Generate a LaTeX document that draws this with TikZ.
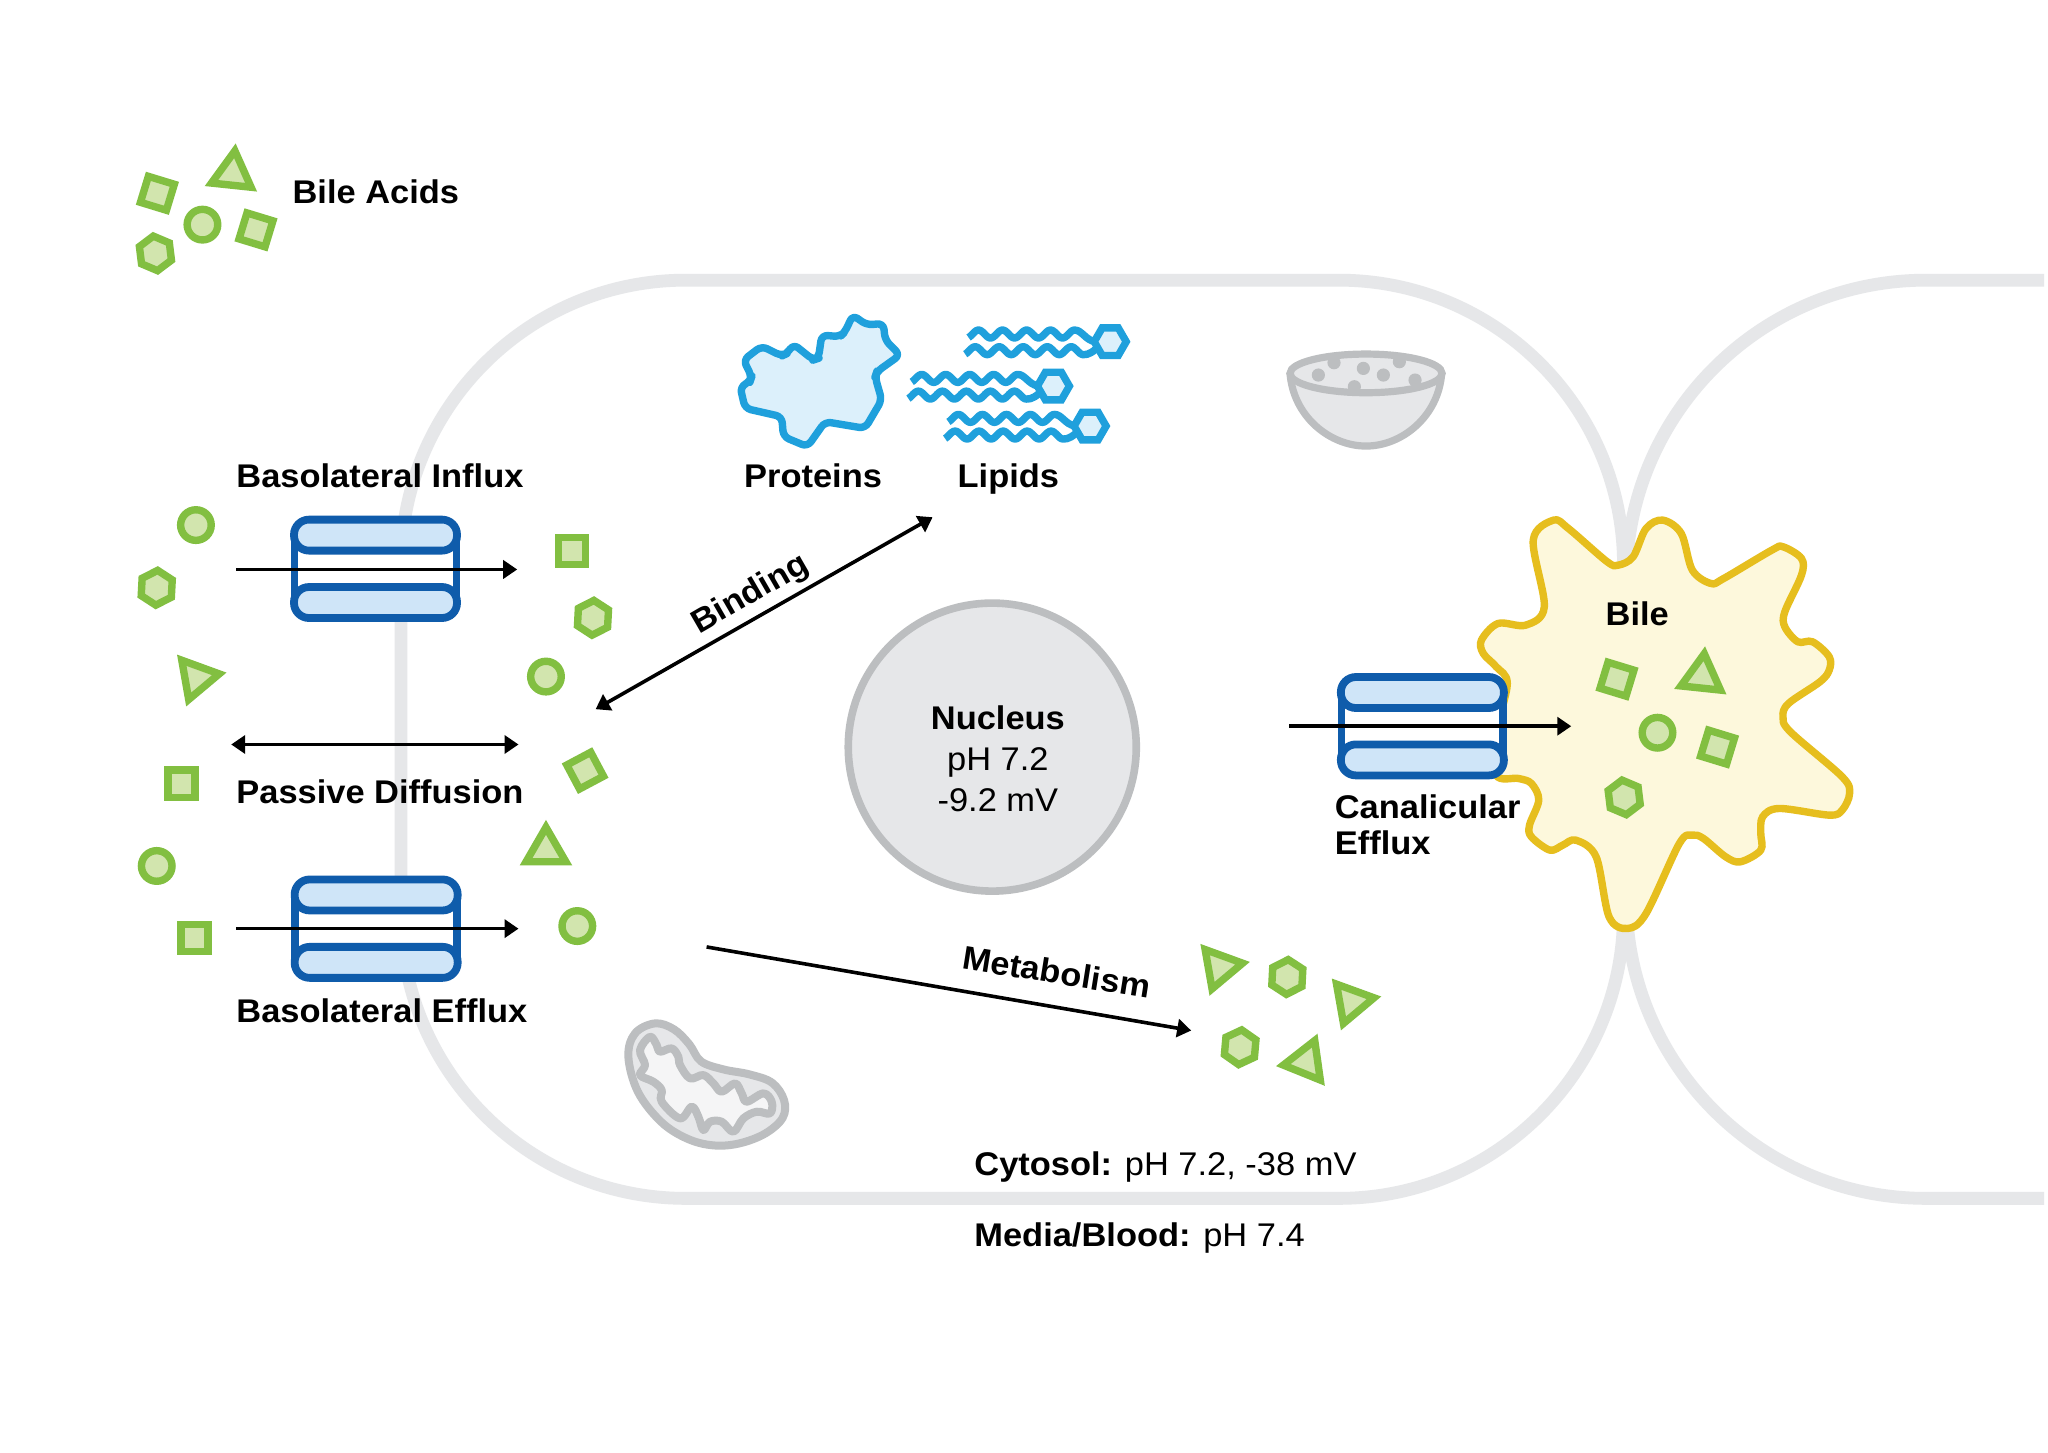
\documentclass[tikz,border=0pt]{standalone}
\usepackage{fontspec}
\setmainfont[FakeStretch=1.05]{Liberation Sans}
\usetikzlibrary{arrows.meta,shapes.geometric}
\definecolor{membrane}{HTML}{E6E7E9}
\definecolor{greyline}{HTML}{BCBEC0}
\definecolor{greyfill}{HTML}{E6E7E9}
\definecolor{acidline}{HTML}{82BF41}
\definecolor{acidfill}{HTML}{D2E5AE}
\definecolor{chanline}{HTML}{0F5CAB}
\definecolor{chanfill}{HTML}{CFE5F8}
\definecolor{skyline}{HTML}{1FA0DC}
\definecolor{skyfill}{HTML}{DCF0FB}
\definecolor{bileline}{HTML}{E6BE1E}
\definecolor{bilefill}{HTML}{FDF8DC}
\tikzset{
  acid/.style={draw=acidline,fill=acidfill,line width=3.7pt,inner sep=0pt,outer sep=0pt},
  acidround/.style={acid,circle,minimum size=15.3pt},
  acidsquare/.style={acid,regular polygon,regular polygon sides=4,minimum size=19.2pt},
  acidhex/.style={acid,regular polygon,regular polygon sides=6,minimum size=17.4pt},
  acidtri/.style={acid,regular polygon,regular polygon sides=3,minimum size=23pt},
  lbl/.style={font=\fontsize{16.4}{18}\selectfont\bfseries,inner sep=0pt,outer sep=0pt},
  lblplain/.style={font=\fontsize{16.4}{18}\selectfont,inner sep=0pt,outer sep=0pt},
  flow/.style={line width=1.8pt,-{Triangle[length=7pt,width=9pt]}},
  flowboth/.style={line width=1.8pt,{Triangle[length=7pt,width=9pt]}-{Triangle[length=7pt,width=9pt]}},
  cellwall/.style={draw=membrane,line width=6.4pt},
  lipidtail/.style={draw=skyline,line width=3.7pt,line join=round},
  chanbar/.style={draw=chanline,fill=chanfill,line width=3.9pt,rounded corners=7.5pt,minimum width=81.5pt,minimum height=15.5pt,inner sep=0pt,outer sep=0pt},
}
% Membrane channel: two stacked bars joined by side walls, given by its centre
\newcommand{\channel}[3]{%
  \fill[white] (#2-62,#3-26) rectangle (#2+62,#3+26);
  \draw[chanline,line width=3.9pt] (#2-62,#3-26) -- (#2-62,#3+26) (#2+62,#3-26) -- (#2+62,#3+26);
  \node[chanbar] (#1top) at (#2,#3-25.8) {};
  \node[chanbar] (#1bot) at (#2,#3+25.8) {};
}
% Lipid: hexagonal head with two wavy tails
\newcommand{\lipid}[3]{%
  \begin{scope}[shift={(#2,#3)},x=.16667pt,y=-.16667pt]
    \draw[lipidtail] plot[domain=-425:-107,samples=70,smooth] (\x,{-23-12*cos(5*(\x+395))})
      .. controls (-85,-35) and (-75,-5) .. (-45,0);
    \draw[lipidtail] plot[domain=-435:-81,samples=70,smooth] (\x,{27-12*cos(5*(\x+405))})
      .. controls (-65,40) and (-50,30) .. (-30,10);
    \node[draw=skyline,fill=skyfill,line width=3.7pt,regular polygon,regular polygon sides=6,minimum size=16pt,inner sep=0pt,outer sep=0pt] (#1) at (0,0) {};
  \end{scope}
}
\begin{document}
\begin{tikzpicture}[x=0.65306pt,y=-0.65306pt]
\useasboundingbox (0,0) rectangle (1568,1112.45);
\fill[white] (0,0) rectangle (1568,1112.45);

% Cell walls
\draw[cellwall,rounded corners=142.4pt] (307,214.5) rectangle (1243,917.5);
\draw[cellwall,rounded corners=150pt] (1565,214.5) -- (1245,214.5) -- (1245,917.5) -- (1565,917.5);

% Bile canaliculus
\begin{scope}[shift={(995.4,382.9)},x=.185pt,y=-.16667pt]
\draw[draw=bileline,fill=bilefill,line width=3.7pt,line join=round] plot[smooth cycle,tension=.55] coordinates {
(630,120)(685,60)(725,85)(830,185)(860,195)(900,170)(935,85)(980,60)(1030,100)(1060,210)(1110,250)(1145,235)(1275,150)(1305,140)(1355,175)(1355,225)(1310,335)(1310,380)(1345,425)(1385,425)(1430,470)(1430,510)(1405,545)(1320,610)(1305,650)(1325,695)(1465,830)(1485,880)(1465,930)(1430,945)(1295,925)(1250,950)(1245,1000)(1245,1050)(1190,1085)(1150,1070)(1090,1015)(1060,1005)(1025,1030)(935,1240)(885,1285)(835,1250)(800,1070)(745,1020)(710,1035)(675,1050)(625,1010)(620,975)(645,900)(625,850)(590,835)(530,825)(530,700)(560,550)(530,500)(495,460)(490,420)(535,370)(610,375)(660,320)};
\end{scope}

% Nucleus
\node[circle,draw=greyline,fill=greyfill,line width=3.8pt,minimum size=144pt,inner sep=0pt,outer sep=0pt] (nucleus) at (759.7,572) {};

% Vesicle bowl
\begin{scope}[shift={(964.7,252.7)},x=.16667pt,y=-.16667pt]
\draw[draw=greyline,fill=greyfill,line width=3.6pt,line join=round] (90,130) .. controls (100,260) and (210,348) .. (318,348) .. controls (425,348) and (535,260) .. (545,130) -- cycle;
\draw[draw=greyline,fill=greyfill,line width=3.6pt] (318,130) ellipse[x radius=228,y radius=58];
\begin{scope}
\clip (318,130) ellipse[x radius=228,y radius=58];
\foreach \dx/\dy in {175/135,222/98,310/115,370/135,418/95,465/150,283/170}
  \fill[greyline] (\dx,\dy) circle[radius=3.3pt];
\end{scope}
\end{scope}

% Mitochondrion
\begin{scope}[shift={(459.4,758)},x=.16667pt,y=-.16667pt]
\draw[draw=greyline,fill=greyfill,line width=4pt] plot[smooth cycle,tension=.6] coordinates {
(85,200)(105,130)(165,100)(222,118)(268,163)(303,214)(370,238)(448,253)(516,278)(552,330)(548,383)(496,430)(418,460)(340,466)(262,446)(184,396)(114,306)};
\draw[draw=greyline,fill=white!60!greyfill,line width=4pt,line join=round] plot[smooth cycle,tension=.6] coordinates {
(120,180)(150,140)(170,165)(180,185)(215,175)(235,200)(240,225)(270,265)(310,255)(340,280)(365,305)(405,280)(425,310)(440,335)(490,310)(515,335)(510,370)(470,365)(430,385)(400,425)(365,395)(330,395)(310,420)(295,380)(275,350)(240,385)(185,335)(185,300)(160,275)(120,255)(135,225)};
\end{scope}

% Protein
\begin{scope}[shift={(536,214.4)},x=.16667pt,y=-.16667pt]
\draw[draw=skyline,fill=skyfill,line width=3.7pt,rounded corners=3pt,line join=round]
(120,320)--(150,305)--(155,290)--(130,240)--(185,198)--(245,228)--(262,220)--(280,192)--(340,240)--(355,235)--(365,165)--(420,170)--(435,155)--(458,105)--(500,135)--(550,130)--(555,180)--(600,225)--(530,275)--(525,290)--(545,360)--(495,445)--(375,425)--(322,500)--(250,470)--(245,410)--(135,385)--cycle;
\end{scope}

% Lipids
\lipid{lipidA}{850}{261.6}
\lipid{lipidB}{806.5}{295.6}
\lipid{lipidC}{834.6}{326.2}

% Channels
\channel{influx}{287.5}{435.5}
\channel{efflux}{288}{711}
\channel{canal}{1089}{556}

% Bile acids key
\node[acidsquare,rotate=-17] (ka) at (120.5,148) {};
\node[acidtri,rotate=-6] (kb) at (178,133) {};
\node[acidround] (kc) at (155,172) {};
\node[acidsquare,rotate=-17] (kd) at (196,176) {};
\node[acidhex,rotate=37] (ke) at (119,194) {};

% Acids outside the cell
\node[acidround] (oa) at (150,402) {};
\node[acidhex,rotate=27] (ob) at (120,450) {};
\node[acidtri,rotate=-80] (oc) at (150.5,519) {};
\node[acidsquare] (od) at (139,600) {};
\node[acidround] (oe) at (120,663) {};
\node[acidsquare] (of) at (149,718) {};

% Acids in the cytosol
\node[acidsquare] (ia) at (438,422) {};
\node[acidhex,rotate=27] (ib) at (454,473) {};
\node[acidround] (ic) at (418,518) {};
\node[acidsquare,rotate=28] (id) at (448,590) {};
\node[acidtri] (ie) at (418,651) {};
\node[acidround] (if) at (442,709) {};

% Metabolites
\node[acidtri,rotate=-80] (ma) at (934,740.5) {};
\node[acidhex,rotate=27] (mb) at (985.6,748) {};
\node[acidtri,rotate=-80] (mc) at (1034.6,767) {};
\node[acidhex,rotate=25] (md) at (949.5,801.8) {};
\node[acidtri,rotate=-22] (me) at (1000,813) {};

% Acids in bile
\node[acidsquare,rotate=-17] (ba) at (1238,520) {};
\node[acidtri,rotate=-6] (bb) at (1303,518) {};
\node[acidround] (bc) at (1269,561) {};
\node[acidsquare,rotate=-17] (bd) at (1315,572) {};
\node[acidhex,rotate=37] (be) at (1243.5,610.5) {};

% Arrow end points
\coordinate (influxa) at (181,436);
\coordinate (influxb) at (396,436);
\coordinate (passa) at (177,570);
\coordinate (passb) at (397,570);
\coordinate (effa) at (181,711);
\coordinate (effb) at (397,711);
\coordinate (cana) at (987,556);
\coordinate (canb) at (1203,556);
\coordinate (bina) at (456,543);
\coordinate (binb) at (714,396);
\coordinate (meta) at (541,725);
\coordinate (metb) at (912,789);
\draw[flow] (influxa) -- (influxb);
\draw[flowboth] (passa) -- (passb);
\draw[flow] (effa) -- (effb);
\draw[flow] (cana) -- (canb);
\draw[flowboth] (bina) -- (binb);
\draw[flow] (meta) -- (metb);

% Labels
\node[lbl,anchor=base west] (tacids) at (224,156) {Bile Acids};
\node[lbl,anchor=base west] (tinflux) at (181,373) {Basolateral Influx};
\node[lbl,anchor=base] (tprot) at (622.5,373) {Proteins};
\node[lbl,anchor=base] (tlip) at (772,373) {Lipids};
\node[lbl,anchor=base,rotate=30] (tbind) at (578,461) {Binding};
\node[lbl,anchor=base west] (tpass) at (181,615.3) {Passive Diffusion};
\node[lbl,anchor=base west] (tefflux) at (181,783) {Basolateral Efflux};
\node[lbl,anchor=base,rotate=-9] (tmet) at (807.5,753) {Metabolism};
\node[lbl,anchor=base west] (tcana) at (1022,626.3) {Canalicular};
\node[lbl,anchor=base west] (tcanb) at (1022,654) {Efflux};
\node[lbl,anchor=base] (tbile) at (1253.5,479) {Bile};
\node[lbl,anchor=base] (tnuc) at (764,558.4) {Nucleus};
\node[lblplain,anchor=base] (tph) at (764,590) {pH 7.2};
\node[lblplain,anchor=base] (tmv) at (764,621.4) {-9.2 mV};
\node[lblplain,anchor=base west] (tcyt) at (746,900) {\textbf{Cytosol:} pH 7.2, -38 mV};
\node[lblplain,anchor=base west] (tmed) at (746,954) {\textbf{Media/Blood:} pH 7.4};
\end{tikzpicture}
\end{document}
